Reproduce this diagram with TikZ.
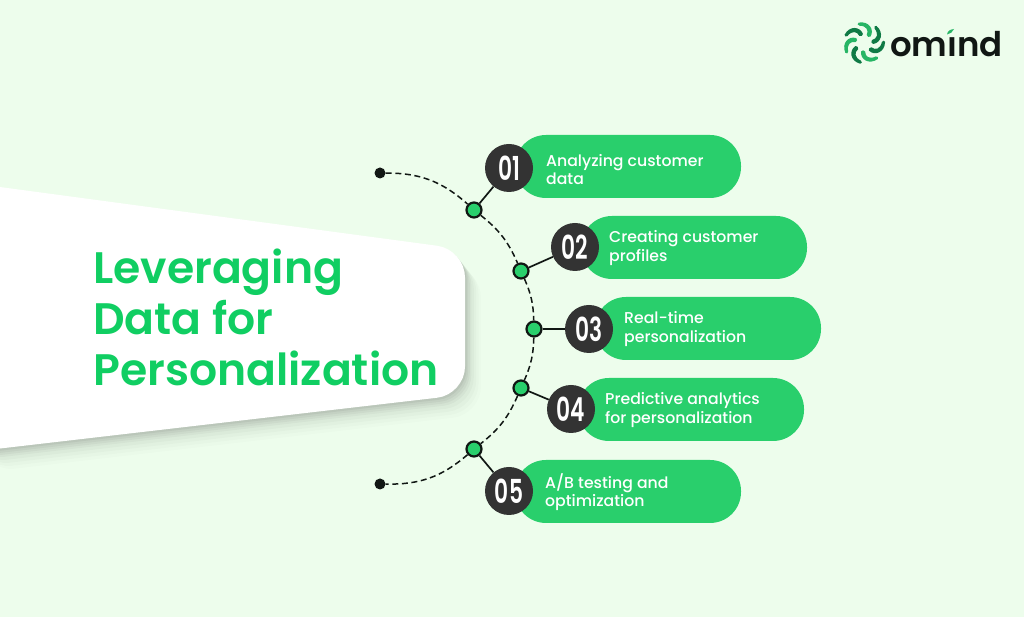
\documentclass[tikz,border=0pt]{standalone}
\usepackage{fontspec}
\setmainfont{Poppins Medium}[BoldFont={Poppins SemiBold}]
\usetikzlibrary{calc}
\definecolor{bg}{HTML}{EDFDEC}
\definecolor{pillgreen}{HTML}{29CF6C}
\definecolor{titlegreen}{HTML}{10CE62}
\definecolor{numdark}{HTML}{333333}
\definecolor{ink}{HTML}{111714}
\definecolor{logod}{HTML}{0F7A45}
\definecolor{logol}{HTML}{27B565}
\tikzset{
  pill/.style={fill=pillgreen,rounded corners=31pt,minimum width=226pt,minimum height=63pt,inner sep=0pt},
  pilltext/.style={text=white,font=\fontsize{15.7}{18.6}\selectfont,align=left,anchor=west,inner sep=0pt},
  numc/.style={circle,fill=numdark,minimum size=48pt,inner sep=0pt,text=white},
  dotg/.style={circle,fill=pillgreen,draw=ink,line width=2.2pt,minimum size=15pt,inner sep=0pt},
  dotk/.style={circle,fill=ink,minimum size=11pt,inner sep=0pt},
  dashc/.style={draw=ink,line width=1.5pt,dash pattern=on 6pt off 3.6pt},
  link/.style={draw=ink,line width=1.7pt},
  blade/.style={line cap=round,line join=round},
}
\newcommand{\numtxt}[1]{\scalebox{.66}[1]{\fontsize{33}{33}\selectfont\bfseries #1}}
\begin{document}
\begin{tikzpicture}[x=1pt,y=1pt]
\useasboundingbox (0,0) rectangle (1024,617);
\fill[bg] (0,0) rectangle (1024,617);
% shadow
\foreach \s/\o in {20/.012,17/.015,14/.02,11/.025,8/.03,6/.035,4/.04,2/.05}{
  \begin{scope}[shift={(\s*0.8,-\s)}]
  \fill[black,opacity=\o,rounded corners=28pt] (-30,434) -- (465,367.5) -- (465,222.5) -- (-30,165) -- cycle;
  \end{scope}
}
\fill[white,rounded corners=28pt] (-30,434) -- (465,367.5) -- (465,222.5) -- (-30,165) -- cycle;
\node[anchor=north west,inner sep=0pt,text=titlegreen,align=left,font=\fontsize{44.1}{51}\selectfont\bfseries] (title) at (93,368.5) {Leveraging\\Data for\\Personalization};
% pills
\node[pill] (p1) at (628,450.5) {};
\node[pill] (p2) at (694,369.5) {};
\node[pill] (p3) at (708,288.5) {};
\node[pill] (p4) at (691,207.5) {};
\node[pill] (p5) at (628,125.5) {};
\node[pilltext] (t1) at (546,447.5) {Analyzing customer\\data};
\node[pilltext] (t2) at (609,369) {Creating customer\\profiles};
\node[pilltext] (t3) at (624,288) {Real-time\\personalization};
\node[pilltext] (t4) at (605,207) {Predictive analytics\\for personalization};
\node[pilltext] (t5) at (545,125) {A/B testing and\\optimization};
% nodes on the curve
\node[dotk] (s) at (380,444) {};
\node[dotg] (d1) at (474,407) {};
\node[dotg] (d2) at (521,346) {};
\node[dotg] (d3) at (534,288) {};
\node[dotg] (d4) at (521,229) {};
\node[dotg] (d5) at (474,168) {};
\node[dotk] (e) at (380,133) {};
\node[numc] (n1) at (509,449) {\numtxt{01}};
\node[numc] (n2) at (575,370) {\numtxt{02}};
\node[numc] (n3) at (589,288) {\numtxt{03}};
\node[numc] (n4) at (571,208) {\numtxt{04}};
\node[numc] (n5) at (509,126) {\numtxt{05}};
\draw[dashc] (s) to[bend left=21] (d1);
\draw[dashc] (d1) to[bend left=14] (d2);
\draw[dashc] (d2) to[bend left=11] (d3);
\draw[dashc] (d3) to[bend left=11] (d4);
\draw[dashc] (d4) to[bend left=14] (d5);
\draw[dashc] (d5) to[bend left=21] (e);
\draw[link] (d1) -- (n1);
\draw[link] (d2) -- (n2);
\draw[link] (d3) -- (n3);
\draw[link] (d4) -- (n4);
\draw[link] (d5) -- (n5);
% logo
\begin{scope}[shift={(864,574)}]
\foreach \a/\c in {0/logod,51/logol,103/logod,154/logol,206/logod,257/logol,309/logod}{
  \fill[blade,fill=\c,rotate=\a] (9,-1) .. controls (17,0) and (20.5,10) .. (12.5,17)
     .. controls (11,18) and (9.5,16) .. (10.5,14.5) .. controls (15,9) and (13,4) .. (8,3)
     .. controls (6.5,2) and (7.5,-1) .. (9,-1) -- cycle;
}
\end{scope}
\node[anchor=base west,inner sep=0pt,text=ink,font=\fontsize{34}{34}\selectfont\bfseries] (logo) at (890,560) {om\i nd};
\fill[logol] (947,582.5) .. controls (950,583) and (953,585) .. (954,588) .. controls (950,587.5) and (947.5,586) .. (947,582.5) -- cycle;
\end{tikzpicture}
\end{document}
